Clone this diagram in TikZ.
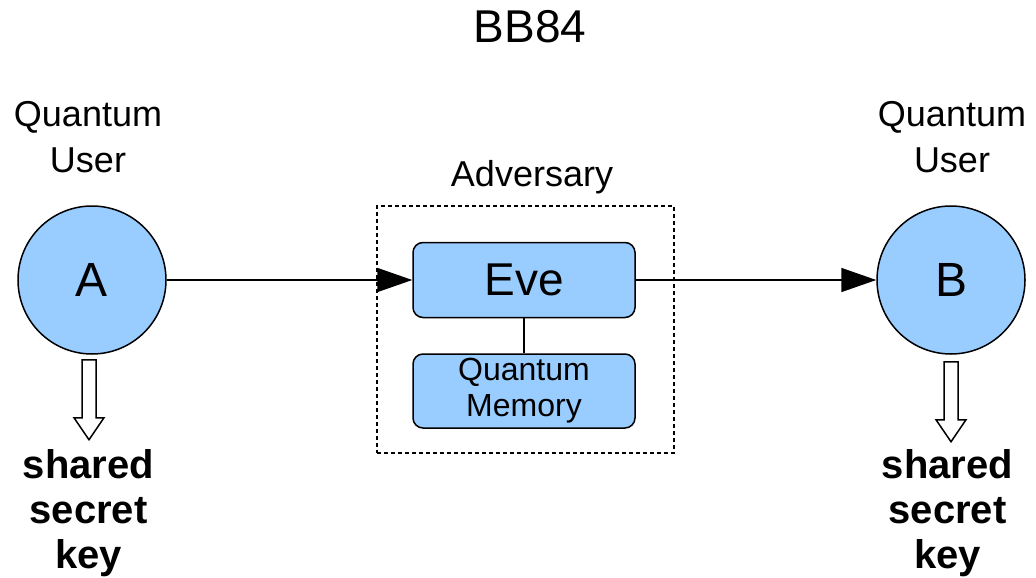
\documentclass[tikz,border=0pt]{standalone}
\usepackage{fontspec}
\setmainfont{Liberation Sans}
\usetikzlibrary{arrows.meta}
\definecolor{userblue}{HTML}{99CCFF}
\tikzset{
  user/.style={circle, draw=black, line width=1.5pt, fill=userblue, minimum size=148pt, inner sep=0pt, font=\fontsize{48}{56}\selectfont},
  evebox/.style={rectangle, rounded corners=10pt, draw=black, line width=1.5pt, fill=userblue, minimum width=222pt, inner sep=0pt},
  advbox/.style={rectangle, draw=black, line width=1.2pt, dash pattern=on 4pt off 3pt, minimum width=297pt, minimum height=247pt, inner sep=0pt},
  conn/.style={line width=1.6pt, -{Triangle[length=35pt,width=24pt]}},
  link/.style={line width=1.6pt},
  label/.style={align=center, inner sep=0pt, font=\fontsize{36}{46}\selectfont},
  keytext/.style={align=center, inner sep=0pt, font=\fontsize{40}{45}\selectfont\bfseries},
  keyarrow/.pic={\draw[line width=1.5pt, fill=white, line join=miter] (-7,0) -- (7,0) -- (7,58) -- (15,58) -- (0,80) -- (-15,58) -- (-7,58) -- cycle;}
}
\begin{document}
\begin{tikzpicture}[x=1pt, y=-1pt]
\useasboundingbox (0,0) rectangle (1036,578);
\node[inner sep=0pt, anchor=base, font=\fontsize{46}{52}\selectfont] (title) at (530,43) {BB84};
\node[user] (A) at (92,280) {A};
\node[user] (B) at (951,280) {B};
\node[label] (qa) at (88,137) {Quantum\\User};
\node[label] (qb) at (952,137) {Quantum\\User};
\node[advbox] (adv) at (525.5,329.5) {};
\node[inner sep=0pt, anchor=base, font=\fontsize{36}{46}\selectfont] (advlabel) at (532,186) {Adversary};
\node[evebox, minimum height=75pt, font=\fontsize{46}{52}\selectfont] (eve) at (524,280) {Eve};
\node[evebox, minimum height=74pt, align=center, font=\fontsize{32}{36}\selectfont] (mem) at (524,391) {Quantum\\Memory};
\draw[link] (eve.south) -- (mem.north);
\draw[conn] (A.east) -- (eve.west);
\draw[conn] (eve.east) -- (B.west);
\path (A.south) ++(-3,5) pic {keyarrow};
\path (B.south) ++(0,7) pic {keyarrow};
\node[keytext] (ka) at (88.5,513.5) {shared\\secret\\key};
\node[keytext] (kb) at (947.5,513.5) {shared\\secret\\key};
\end{tikzpicture}
\end{document}
